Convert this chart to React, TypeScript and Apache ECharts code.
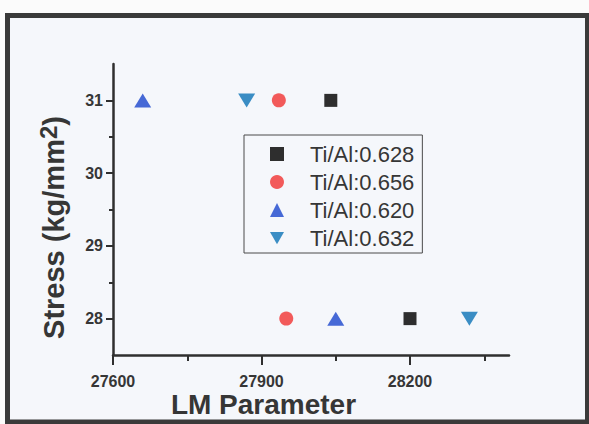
import React, { useEffect, useRef } from 'react';
import * as echarts from 'echarts';

// ---- data ----
const seriesNames = ['Ti/Al:0.628', 'Ti/Al:0.656', 'Ti/Al:0.620', 'Ti/Al:0.632'];
const lm0628 = [28040, 28200];
const stress0628 = [31, 28];
const lm0656 = [27935, 27950];
const stress0656 = [31, 28];
const lm0620 = [27660, 28050];
const stress0620 = [31, 28];
const lm0632 = [27870, 28320];
const stress0632 = [31, 28];
const xTickValues = [27600, 27900, 28200];
const yTickValues = [28, 29, 30, 31];
const xTitle = 'LM Parameter';
const yTitle = 'Stress (kg/mm{sup|2})';

const FONT = '"Liberation Sans", Arial, Helvetica, sans-serif';
const AXIS = '#2f2f2f';
const TEXT = '#363636';

const pairs = (xs: number[], ys: number[]) => xs.map((x, i) => [x, ys[i]]);

export default function App() {
  const ref = useRef<HTMLDivElement>(null);
  useEffect(() => {
    if (!ref.current) return;
    const chart = echarts.init(ref.current, undefined, { renderer: 'svg' });
    const tickLine = { color: AXIS, width: 2 };
    const option: any = {
      animation: false,
      backgroundColor: 'transparent',
      grid: { left: 113, right: 80, top: 64, bottom: 69, containLabel: false, outerBoundsMode: 'none' },
      xAxis: {
        type: 'value',
        min: 27600,
        max: 28400,
        interval: 300,
        axisLine: { show: true, onZero: false, lineStyle: { color: AXIS, width: 2.5 } },
        axisTick: { show: true, length: 10, customValues: xTickValues, lineStyle: tickLine },
        minorTick: { show: true, splitNumber: 2, length: 6, lineStyle: tickLine },
        axisLabel: {
          customValues: xTickValues,
          formatter: (v: number) => String(v),
          margin: 18,
          fontSize: 16,
          lineHeight: 16,
          fontWeight: 'bold',
          color: TEXT,
          fontFamily: FONT,
        },
        splitLine: { show: false },
        minorSplitLine: { show: false },
      },
      yAxis: {
        type: 'value',
        min: 27.5,
        max: 31.5,
        splitNumber: 4,
        axisLine: { show: true, onZero: false, lineStyle: { color: AXIS, width: 2.5 } },
        axisTick: { show: true, length: 7, customValues: yTickValues, lineStyle: tickLine },
        minorTick: { show: true, splitNumber: 2, length: 4, lineStyle: tickLine },
        axisLabel: {
          customValues: yTickValues,
          formatter: (v: number) => String(v),
          margin: 10,
          fontSize: 16,
          fontWeight: 'bold',
          color: TEXT,
          fontFamily: FONT,
        },
        splitLine: { show: false },
        minorSplitLine: { show: false },
      },
      legend: {
        orient: 'vertical',
        left: 244,
        top: 135,
        padding: [8, 8, 4, 26],
        itemWidth: 14,
        itemHeight: 14,
        itemGap: 6,
        borderColor: '#4a4a4a',
        borderWidth: 1,
        borderRadius: 0,
        backgroundColor: 'transparent',
        selectedMode: false,
        textStyle: { fontSize: 22, lineHeight: 22, color: TEXT, fontFamily: FONT, padding: [0, 0, 0, 21] },
        data: seriesNames,
      },
      series: [
        {
          name: seriesNames[0],
          type: 'scatter',
          symbol: 'rect',
          symbolSize: 13,
          data: pairs(lm0628, stress0628),
          itemStyle: { color: '#2e2e2e', opacity: 1 },
        },
        {
          name: seriesNames[1],
          type: 'scatter',
          symbol: 'circle',
          symbolSize: 14,
          data: pairs(lm0656, stress0656),
          itemStyle: { color: '#f25a5a', opacity: 1 },
        },
        {
          name: seriesNames[2],
          type: 'scatter',
          symbol: 'triangle',
          symbolSize: [17, 14],
          data: pairs(lm0620, stress0620),
          itemStyle: { color: '#4669d6', opacity: 1 },
        },
        {
          name: seriesNames[3],
          type: 'scatter',
          symbol: 'path://M0,0L16,0L8,14Z',
          symbolSize: [17, 14],
          data: pairs(lm0632, stress0632),
          itemStyle: { color: '#3a8dc4', opacity: 1 },
        },
      ],
      graphic: [
        {
          type: 'rect',
          z: -10,
          silent: true,
          shape: { x: 7.5, y: 15.5, width: 580, height: 406.5 },
          style: { fill: '#f5f7fb', stroke: '#3a3a3a', lineWidth: 5 },
        },
        {
          type: 'text',
          x: 263.5,
          y: 404,
          silent: true,
          style: {
            text: xTitle,
            fontSize: 28,
            lineHeight: 20,
            fontWeight: 'bold',
            fontFamily: FONT,
            fill: TEXT,
            align: 'center',
            verticalAlign: 'middle',
          },
        },
        {
          type: 'text',
          x: 54,
          y: 227.5,
          rotation: Math.PI / 2,
          silent: true,
          style: {
            text: yTitle,
            fontSize: 29,
            lineHeight: 36,
            fontWeight: 'bold',
            fontFamily: FONT,
            fill: TEXT,
            align: 'center',
            verticalAlign: 'middle',
            rich: {
              sup: {
                fontSize: 24,
                lineHeight: 24,
                fontWeight: 'bold',
                fontFamily: FONT,
                fill: TEXT,
                verticalAlign: 'top',
              },
            },
          },
        },
      ],
    };
    chart.setOption(option);
    return () => chart.dispose();
  }, []);
  return (
    <div
      ref={ref}
      style={{ position: 'fixed', left: 0, top: 0, width: 589, height: 424, background: '#fbfbfb' }}
    />
  );
}
